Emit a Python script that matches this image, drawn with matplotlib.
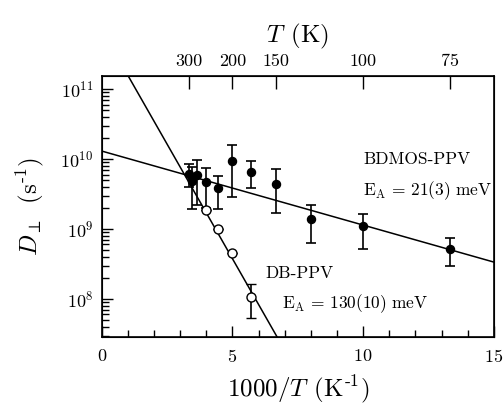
import numpy as np
import matplotlib
matplotlib.use('Agg')
import matplotlib.pyplot as plt

plt.rcParams['mathtext.fontset'] = 'cm'
plt.rcParams['font.family'] = 'serif'
plt.rcParams['font.serif'] = ['cmr10', 'DejaVu Serif']
plt.rcParams['axes.formatter.use_mathtext'] = True
plt.rcParams['axes.unicode_minus'] = False

# BDMOS-PPV (filled circles)
bd_x = [3.33, 3.45, 3.64, 4.0, 4.44, 5.0, 5.71, 6.67, 8.0, 10.0, 13.33]
bd_y = [6.2e9, 4.8e9, 5.9e9, 4.7e9, 3.8e9, 9.5e9, 6.6e9, 4.4e9, 1.4e9, 1.09e9, 5.2e8]
bd_err = [2.2e9, 2.9e9, 3.7e9, 2.7e9, 1.9e9, 6.6e9, 2.8e9, 2.7e9, 0.78e9, 0.57e9, 0.22e9]

# DB-PPV (open circles)
db_x = [4.0, 4.44, 5.0, 5.71]
db_y = [1.85e9, 9.9e8, 4.6e8, 1.07e8]
db_err = [0, 0, 0, 0.54e8]

# Arrhenius fits: activation energy (meV) and prefactor (s^-1)
k_B = 8.617e-5  # eV/K
bd_Ea, bd_D0 = 21, 1.3e10
db_Ea, db_D0 = 130, 7.1e11

# top axis temperatures
T_ticks = [300, 200, 150, 100, 75]

fig = plt.figure(figsize=(5.04, 4.05), dpi=100)
ax = fig.add_axes([0.2018, 0.168, 0.7782, 0.644])

xx = np.linspace(0, 15, 300)
ax.plot(xx, bd_D0 * np.exp(-bd_Ea * 1e-3 * xx / (1000 * k_B)), color='black', lw=1.1)
ax.plot(xx, db_D0 * np.exp(-db_Ea * 1e-3 * xx / (1000 * k_B)), color='black', lw=1.1)

ax.errorbar(bd_x, bd_y, yerr=bd_err, fmt='o', color='black', ms=5.8,
            elinewidth=1.2, capsize=3.5, capthick=1.2, zorder=3)
ax.errorbar(db_x, db_y, yerr=db_err, fmt='o', color='black', mfc='white', mec='black',
            mew=1.0, ms=6.5, elinewidth=1.2, capsize=3.5, capthick=1.2, zorder=3)

ax.set_yscale('log')
ax.set_xlim(0, 15)
ax.set_ylim(2.86e7, 1.53e11)
ax.set_xticks([0, 5, 10, 15])
ax.set_xticks(range(0, 16), minor=True)
ax.tick_params(axis='both', which='major', direction='in', length=8, width=1.0, labelsize=13)
ax.tick_params(axis='both', which='minor', direction='in', length=5, width=1.0)
ax.tick_params(axis='x', which='both', top=False)
ax.tick_params(axis='y', which='both', right=False)
ax.tick_params(axis='x', pad=8)
ax.tick_params(axis='y', pad=6)
for s in ax.spines.values():
    s.set_linewidth(1.2)

ax.set_xlabel(r'$1000/T\;\,(\mathrm{K}^{\text{-}1})$', fontsize=18, labelpad=6)
ax.set_ylabel(r'$D_\perp\;\;(\mathrm{s}^{\text{-}1})$', fontsize=18, labelpad=10)

ax2 = ax.twiny()
ax2.set_xlim(0, 15)
ax2.set_xticks([1000 / t for t in T_ticks])
ax2.set_xticklabels([str(t) for t in T_ticks])
ax2.tick_params(axis='x', direction='in', length=9, width=1.0, labelsize=13, pad=5)
ax2.tick_params(axis='x', which='minor', top=False)
ax2.set_xlabel(r'$T\;\,(\mathrm{K})$', fontsize=18, labelpad=8)

ax.text(10.0, 8.5e9, 'BDMOS-PPV', fontsize=12.5, va='baseline')
ax.text(10.0, 3.09e9, r'$\mathrm{E_A\,=\,21(3)\ meV}$', fontsize=12.5, va='baseline')
ax.text(6.27, 2.0e8, 'DB-PPV', fontsize=12.5, va='baseline')
ax.text(6.88, 7.3e7, r'$\mathrm{E_A\,=\,130(10)\ meV}$', fontsize=12.5, va='baseline')

fig.savefig('out.png', dpi=100)
